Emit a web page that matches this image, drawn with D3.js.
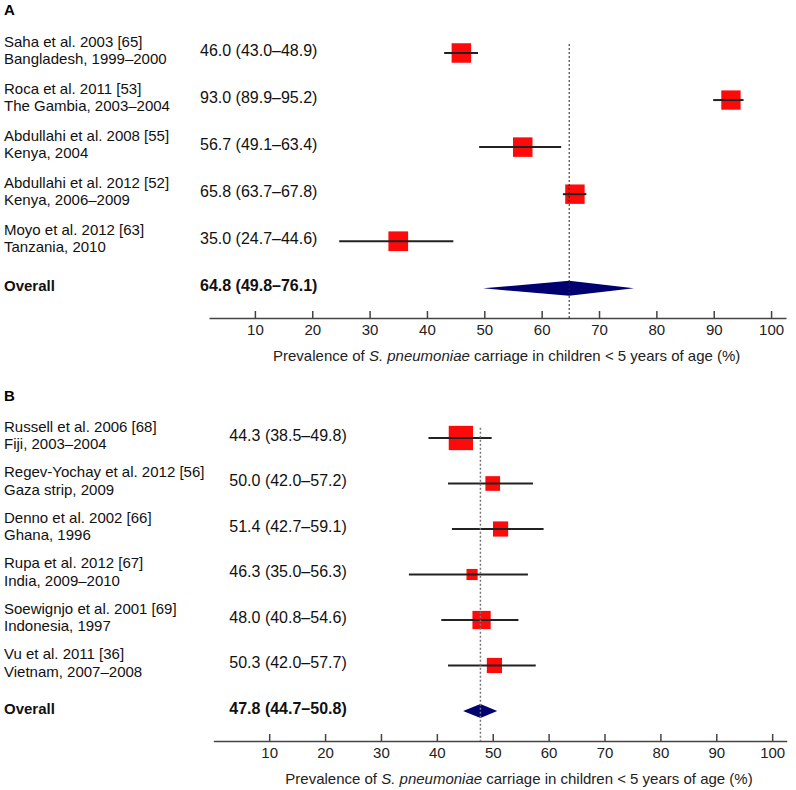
<!DOCTYPE html>
<html>
<head>
<meta charset="utf-8">
<script src="https://cdn.jsdelivr.net/npm/d3@7"></script>
<style>
  html, body { margin: 0; padding: 0; background: #fff; }
  svg { display: block; font-family: "Liberation Sans", Arial, sans-serif; }
</style>
</head>
<body>
<svg id="chart" width="796" height="790"></svg>
<script>
// ---------- Data: panel A ----------
const studiesA = ["Saha et al. 2003 [65]", "Roca et al. 2011 [53]", "Abdullahi et al. 2008 [55]", "Abdullahi et al. 2012 [52]", "Moyo et al. 2012 [63]"];
const settingsA = ["Bangladesh, 1999–2000", "The Gambia, 2003–2004", "Kenya, 2004", "Kenya, 2006–2009", "Tanzania, 2010"];
const estA = [46.0, 93.0, 56.7, 65.8, 35.0];
const lowA = [43.0, 89.9, 49.1, 63.7, 24.7];
const highA = [48.9, 95.2, 63.4, 67.8, 44.6];
const weightA = [20.0, 19.6, 20.0, 19.8, 20.4];
const overallA = [64.8, 49.8, 76.1];

// ---------- Data: panel B ----------
const studiesB = ["Russell et al. 2006 [68]", "Regev-Yochay et al. 2012 [56]", "Denno et al. 2002 [66]", "Rupa et al. 2012 [67]", "Soewignjo et al. 2001 [69]", "Vu et al. 2011 [36]"];
const settingsB = ["Fiji, 2003–2004", "Gaza strip, 2009", "Ghana, 1996", "India, 2009–2010", "Indonesia, 1997", "Vietnam, 2007–2008"];
const estB = [44.3, 50.0, 51.4, 46.3, 48.0, 50.3];
const lowB = [38.5, 42.0, 42.7, 35.0, 40.8, 42.0];
const highB = [49.8, 57.2, 59.1, 56.3, 54.6, 57.7];
const weightB = [34.3, 12.5, 13.4, 7.2, 19.3, 13.4];
const overallB = [47.8, 44.7, 50.8];

// ---------- Axis ----------
const tickValues = [10, 20, 30, 40, 50, 60, 70, 80, 90, 100];
const axisExtentA = [2, 102.6];
const axisExtentB = [0, 102.6];

const FS = 15;
const FSV = 16;
const fmt = d3.format(".1f");
const svg = d3.select("#chart");

function drawPanel(cfg) {
  const g = svg.append("g");
  const x = d3.scaleLinear().domain(cfg.extent).range(cfg.xRange);
  const n = cfg.studies.length;
  const y = d3.scalePoint().domain(d3.range(n + 1)).range(cfg.yRange);
  const size = d3.scaleSqrt().domain([0, cfg.wMax]).range([0, cfg.sideMax]);

  // panel letter
  g.append("text").attr("x", 4).attr("y", cfg.letterY)
    .attr("font-size", 15).attr("font-weight", "bold").attr("fill", "#000")
    .text(cfg.letter);

  const rows = d3.range(n);
  // labels
  g.selectAll("text.l1").data(rows).join("text")
    .attr("x", 4).attr("y", i => y(i) - 6.5)
    .attr("font-size", FS).attr("fill", "#111").text(i => cfg.studies[i]);
  g.selectAll("text.l2").data(rows).join("text")
    .attr("x", 4).attr("y", i => y(i) + 11)
    .attr("font-size", FS).attr("fill", "#111").text(i => cfg.settings[i]);
  g.selectAll("text.val").data(rows).join("text")
    .attr("x", cfg.valX).attr("y", i => y(i) + 2.5)
    .attr("font-size", FSV).attr("fill", "#111")
    .text(i => `${fmt(cfg.est[i])} (${fmt(cfg.low[i])}–${fmt(cfg.high[i])})`);

  // overall text
  const oy = y(n);
  g.append("text").attr("x", 4).attr("y", oy + 2.5)
    .attr("font-size", FS).attr("font-weight", "bold").attr("fill", "#111").text("Overall");
  g.append("text").attr("x", cfg.valX).attr("y", oy + 2.5)
    .attr("font-size", FSV).attr("font-weight", "bold").attr("fill", "#111")
    .text(`${fmt(cfg.overall[0])} (${fmt(cfg.overall[1])}–${fmt(cfg.overall[2])})`);

  // squares
  g.selectAll("rect.sq").data(rows).join("rect")
    .attr("x", i => x(cfg.est[i]) - size(cfg.weight[i]) / 2)
    .attr("y", i => y(i) - size(cfg.weight[i]) / 2)
    .attr("width", i => size(cfg.weight[i]))
    .attr("height", i => size(cfg.weight[i]))
    .attr("fill", "#ff0a0a");

  // CI lines
  g.selectAll("line.ci").data(rows).join("line")
    .attr("x1", i => x(cfg.low[i])).attr("x2", i => x(cfg.high[i]))
    .attr("y1", i => y(i)).attr("y2", i => y(i))
    .attr("stroke", "#222").attr("stroke-width", 2);

  // diamond
  const dh = cfg.diamondH / 2;
  g.append("path")
    .attr("d", `M${x(cfg.overall[1])},${oy} L${x(cfg.overall[0])},${oy - dh} L${x(cfg.overall[2])},${oy} L${x(cfg.overall[0])},${oy + dh} Z`)
    .attr("fill", "#000070");

  // axis
  const axisG = g.append("g").attr("transform", `translate(0,${cfg.axisY})`)
    .call(d3.axisBottom(x).tickValues(tickValues).tickSizeInner(-7).tickSizeOuter(0).tickPadding(6));
  axisG.select(".domain").attr("stroke", "#444").attr("stroke-width", 1.5);
  axisG.selectAll(".tick line").attr("stroke", "#444").attr("stroke-width", 1.5);
  axisG.selectAll(".tick text").attr("font-size", FS).attr("fill", "#222")
    .attr("font-family", '"Liberation Sans", Arial, sans-serif');

  // axis title
  const t = g.append("text").attr("x", cfg.titleX).attr("y", cfg.axisY + 43)
    .attr("text-anchor", "middle").attr("font-size", FS).attr("fill", "#222");
  t.append("tspan").text("Prevalence of ");
  t.append("tspan").attr("font-style", "italic").text("S. pneumoniae");
  t.append("tspan").text(" carriage in children < 5 years of age (%)");

  // dotted overall reference line
  g.append("line")
    .attr("x1", x(cfg.overall[0])).attr("x2", x(cfg.overall[0]))
    .attr("y1", cfg.refTop).attr("y2", cfg.axisY)
    .attr("stroke", cfg.refColor).attr("stroke-width", cfg.refWidth)
    .attr("stroke-dasharray", "2,2");
}

drawPanel({
  letter: "A", letterY: 15,
  studies: studiesA, settings: settingsA, est: estA, low: lowA, high: highA,
  weight: weightA, overall: overallA,
  extent: axisExtentA, xRange: [209, 786], yRange: [53, 288.3],
  wMax: 20, sideMax: 19.5, diamondH: 15,
  valX: 200, axisY: 318, titleX: 506.7, refTop: 44,
  refColor: "#222", refWidth: 1
});

drawPanel({
  letter: "B", letterY: 401,
  studies: studiesB, settings: settingsB, est: estB, low: lowB, high: highB,
  weight: weightB, overall: overallB,
  extent: axisExtentB, xRange: [213.3, 786.7], yRange: [438, 711],
  wMax: 34.3, sideMax: 24.3, diamondH: 14,
  valX: 229.3, axisY: 741, titleX: 519, refTop: 427.7,
  refColor: "#777", refWidth: 1.5
});
</script>
</body>
</html>
